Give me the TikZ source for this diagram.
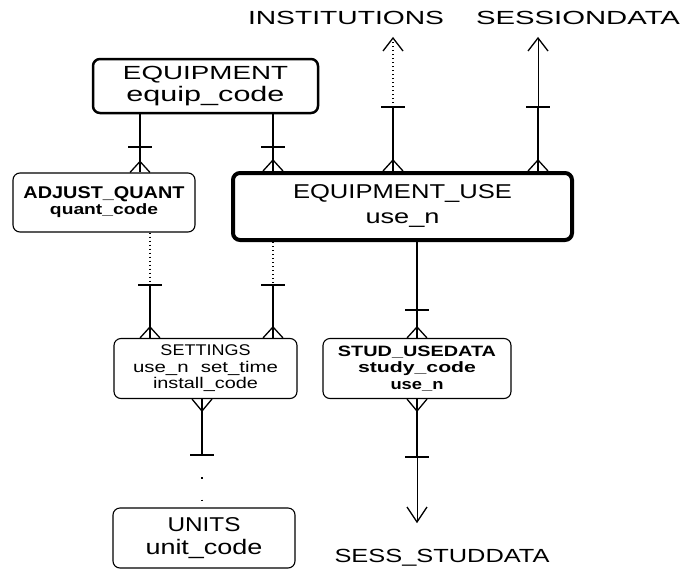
\documentclass[tikz,border=0pt]{standalone}
\usepackage{fontspec}
\setmainfont{Liberation Sans}
\usepackage{graphicx}
\usetikzlibrary{calc}

% one line of text set at a given size and stretched to a given width
\newcommand\fw[3]{\resizebox{#1pt}{\height}{\fontsize{#2pt}{#2pt}\selectfont #3}}

\tikzset{
  ent/.style={draw, rounded corners=7pt, line width=1.1pt, inner sep=0pt, align=center},
  link/.style={line width=1.3pt},
  thinlink/.style={line width=0.9pt},
  opt/.style={line width=1.3pt, dash pattern=on 1.3pt off 2.7pt},
  sparse/.style={line width=1.3pt, dash pattern=on 1.3pt off 21pt},
  lbl/.style={inner sep=0pt},
  crowup/.pic={\draw[link] (-10,0) -- (0,-11) -- (10,0);},
  crowdown/.pic={\draw[link] (-10,0) -- (0,12) -- (10,0);},
  crossbar/.pic={\draw[link] (-12,0) -- (12,0);},
  tipup/.pic={\draw[link] (-10,13) -- (0,0) -- (10,13);},
  tipdown/.pic={\draw[link] (-10,-15) -- (0,0) -- (10,-15);}
}

\begin{document}
\begin{tikzpicture}[x=1pt,y=-1pt]
\fill[white] (0,0) rectangle (684,570);
\useasboundingbox (0,0) rectangle (684,570);

% entities
\node[ent, line width=2.5pt, minimum width=225pt, minimum height=54pt,
      font=\fontsize{10}{22}\selectfont] (eq) at (205.5,86)
  {\fw{165}{19}{EQUIPMENT}\\\fw{158}{21}{equip\_code}};

\node[ent, minimum width=182pt, minimum height=59pt,
      font=\fontsize{10}{16}\selectfont] (aq) at (104,202.5)
  {\fw{161}{17}{\bfseries ADJUST\_QUANT}\\\fw{108}{15}{\bfseries quant\_code}};

\node[ent, line width=4pt, minimum width=339pt, minimum height=67pt,
      font=\fontsize{10}{25}\selectfont] (eu) at (402.5,206.5)
  {\fw{219}{20}{EQUIPMENT\_USE}\\\fw{74}{20}{use\_n}};

\node[ent, minimum width=183pt, minimum height=60pt,
      font=\fontsize{10}{16.5}\selectfont] (st) at (205.5,368.5)
  {\fw{90}{15.5}{SETTINGS}\\\fw{145}{15.5}{use\_n\hspace{0.6em}set\_time}\\\fw{105}{15.5}{install\_code}};

\node[ent, minimum width=188pt, minimum height=60pt,
      font=\fontsize{10}{16.5}\selectfont] (su) at (417,368.5)
  {\fw{158}{15}{\bfseries STUD\_USEDATA}\\\fw{118}{15}{\bfseries study\_code}\\\fw{53}{15}{\bfseries use\_n}};

\node[ent, minimum width=182pt, minimum height=60pt,
      font=\fontsize{10}{23}\selectfont] (un) at (204,538)
  {\fw{73}{20}{UNITS}\\\fw{117}{21}{unit\_code}};

% external entities
\node[lbl] (inst) at (346,18) {\fw{196}{19}{INSTITUTIONS}};
\node[lbl] (sess) at (578,18) {\fw{204}{19}{SESSIONDATA}};
\node[lbl] (ssd) at (442,558) {\fw{215}{19}{SESS\_STUDDATA}};

% x positions of the relationship lines
\coordinate (xA) at (140,0);
\coordinate (xB) at (273,0);
\coordinate (xC) at (393,0);
\coordinate (xD) at (538,0);
\coordinate (xE) at (150,0);
\coordinate (xF) at (417,0);
\coordinate (xG) at (202,0);

% EQUIPMENT -- ADJUST_QUANT
\draw[link] (eq.south -| xA) -- (aq.north -| xA);
\pic at (140,147) {crossbar};
\pic at (aq.north -| xA) {crowup};

% EQUIPMENT -- EQUIPMENT_USE
\draw[link] (eq.south -| xB) -- (eu.north -| xB);
\pic at (273,147) {crossbar};
\pic at (eu.north -| xB) {crowup};

% EQUIPMENT_USE -- INSTITUTIONS
\coordinate (barI) at (393,107);
\coordinate (tipI) at (393,38);
\draw[link] (eu.north -| xC) -- (barI);
\draw[opt] (barI) -- (tipI);
\pic at (barI) {crossbar};
\pic at (tipI) {tipup};
\pic at (eu.north -| xC) {crowup};

% EQUIPMENT_USE -- SESSIONDATA
\coordinate (barS) at (538,107);
\coordinate (tipS) at (538,38);
\draw[link] (eu.north -| xD) -- (barS);
\draw[thinlink] (barS) -- (tipS);
\pic at (barS) {crossbar};
\pic at (tipS) {tipup};
\pic at (eu.north -| xD) {crowup};

% ADJUST_QUANT -- SETTINGS
\coordinate (barAS) at (150,285);
\draw[opt] (aq.south -| xE) -- (barAS);
\draw[link] (barAS) -- (st.north -| xE);
\pic at (barAS) {crossbar};
\pic at (st.north -| xE) {crowup};

% EQUIPMENT_USE -- SETTINGS
\coordinate (barES) at (273,285);
\draw[opt] (eu.south -| xB) -- (barES);
\draw[link] (barES) -- (st.north -| xB);
\pic at (barES) {crossbar};
\pic at (st.north -| xB) {crowup};

% EQUIPMENT_USE -- STUD_USEDATA
\draw[link] (eu.south -| xF) -- (su.north -| xF);
\pic at (417,310) {crossbar};
\pic at (su.north -| xF) {crowup};

% SETTINGS -- UNITS
\coordinate (barSU) at (202,455);
\draw[link] (st.south -| xG) -- (barSU);
\draw[sparse] (barSU) -- (un.north -| xG);
\pic at (barSU) {crossbar};
\pic at (st.south -| xG) {crowdown};

% STUD_USEDATA -- SESS_STUDDATA
\coordinate (barSS) at (417,457);
\coordinate (tipSS) at (417,522);
\draw[link] (su.south -| xF) -- (barSS);
\draw[thinlink] (barSS) -- (tipSS);
\pic at (barSS) {crossbar};
\pic at (tipSS) {tipdown};
\pic at (su.south -| xF) {crowdown};
\end{tikzpicture}
\end{document}
